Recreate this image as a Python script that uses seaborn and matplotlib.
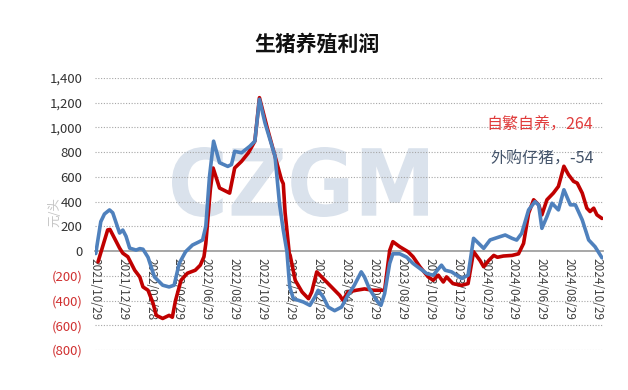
import pandas as pd
import seaborn as sns
import matplotlib.pyplot as plt
import matplotlib.dates as mdates
from matplotlib.ticker import FuncFormatter
from matplotlib.textpath import TextPath
from matplotlib.patches import PathPatch
from matplotlib.font_manager import FontProperties
from matplotlib.transforms import Affine2D

# 自繁自养
red_dates = ['2021-11-05', '2021-11-26', '2021-12-01', '2021-12-22', '2021-12-29', '2022-01-09', '2022-01-24',
             '2022-02-04', '2022-02-11', '2022-02-22', '2022-03-05', '2022-03-12', '2022-03-26', '2022-04-09',
             '2022-04-16', '2022-04-23', '2022-05-05', '2022-05-19', '2022-06-05', '2022-06-16', '2022-06-24',
             '2022-06-28', '2022-07-08', '2022-07-14', '2022-07-28', '2022-08-19', '2022-08-30', '2022-09-14',
             '2022-09-29', '2022-10-13', '2022-10-23', '2022-11-08', '2022-11-26', '2022-12-10', '2022-12-14',
             '2022-12-18', '2022-12-27', '2022-12-29', '2023-01-09', '2023-01-24', '2023-02-07', '2023-02-14',
             '2023-02-25', '2023-03-11', '2023-03-29', '2023-04-16', '2023-04-23', '2023-05-04', '2023-05-22',
             '2023-06-09', '2023-06-28', '2023-07-23', '2023-08-03', '2023-08-10', '2023-08-25', '2023-09-12',
             '2023-09-23', '2023-10-08', '2023-10-26', '2023-11-06', '2023-11-17', '2023-11-28', '2023-12-05',
             '2023-12-19', '2024-01-07', '2024-01-21', '2024-02-02', '2024-02-16', '2024-02-24', '2024-03-06',
             '2024-03-17', '2024-03-25', '2024-04-07', '2024-04-26', '2024-05-10', '2024-05-21', '2024-06-01',
             '2024-06-12', '2024-06-23', '2024-06-30', '2024-07-11', '2024-07-25', '2024-08-05', '2024-08-17',
             '2024-08-27', '2024-09-07', '2024-09-15', '2024-09-26', '2024-10-06', '2024-10-13', '2024-10-21',
             '2024-10-28', '2024-11-08']
red_vals = [-87, 171, 175, 24, -17, -46, -155,
            -209, -290, -317, -423, -520, -545, -520,
            -535, -400, -236, -179, -155, -114, -46,
            60, 500, 672, 510, 469, 672, 726,
            795, 889, 1241, 1010, 767, 577, 545,
            309, -17, -35, -236, -331, -385, -331,
            -168, -222, -290, -358, -398, -331, -317,
            -306, -317, -317, 5, 76, 35, -5,
            -46, -127, -209, -236, -195, -250, -209,
            -263, -277, -263, -5, -76, -127, -76,
            -35, -50, -40, -35, -22, 62, 306,
            415, 374, 293, 415, 469, 523, 686,
            618, 564, 550, 469, 347, 320, 347,
            293, 264]

# 外购仔猪
blue_dates = ['2021-10-31', '2021-11-11', '2021-11-19', '2021-11-30', '2021-12-07', '2021-12-22', '2021-12-29',
              '2022-01-05', '2022-01-13', '2022-01-27', '2022-02-04', '2022-02-11', '2022-02-22', '2022-03-08',
              '2022-03-26', '2022-04-09', '2022-04-20', '2022-05-01', '2022-05-15', '2022-05-30', '2022-06-14',
              '2022-06-21', '2022-06-28', '2022-07-06', '2022-07-15', '2022-07-28', '2022-08-15', '2022-08-23',
              '2022-08-30', '2022-09-14', '2022-10-02', '2022-10-13', '2022-10-23', '2022-11-04', '2022-11-26',
              '2022-12-06', '2022-12-14', '2022-12-22', '2022-12-28', '2023-01-05', '2023-01-27', '2023-02-10',
              '2023-02-21', '2023-02-28', '2023-03-11', '2023-03-22', '2023-04-05', '2023-04-20', '2023-05-04',
              '2023-05-18', '2023-06-02', '2023-06-09', '2023-06-20', '2023-07-08', '2023-07-15', '2023-07-23',
              '2023-08-03', '2023-08-10', '2023-08-25', '2023-09-09', '2023-09-23', '2023-10-08', '2023-10-23',
              '2023-11-06', '2023-11-24', '2023-12-02', '2023-12-16', '2024-01-07', '2024-01-21', '2024-02-02',
              '2024-02-24', '2024-03-09', '2024-03-31', '2024-04-11', '2024-04-26', '2024-05-06', '2024-05-17',
              '2024-06-01', '2024-06-15', '2024-06-23', '2024-06-30', '2024-07-11', '2024-07-22', '2024-08-05',
              '2024-08-17', '2024-08-31', '2024-09-11', '2024-09-26', '2024-10-10', '2024-10-24', '2024-11-08']
blue_vals = [-20, 238, 300, 333, 310, 146, 170,
             120, 24, 8, 20, 15, -50, -209,
             -276, -290, -276, -100, -5, 49, 76,
             90, 200, 600, 889, 715, 685, 700,
             807, 795, 848, 889, 1228, 1038, 767,
             374, 170, -5, -290, -385, -412, -439,
             -371, -317, -371, -453, -482, -453, -358,
             -276, -168, -209, -306, -412, -439, -344,
             -100, -22, -22, -49, -100, -141, -182,
             -195, -114, -155, -168, -222, -195, 103,
             22, 90, 117, 130, 103, 89, 144,
             333, 400, 373, 184, 279, 387, 333,
             496, 374, 374, 252, 90, 35, -54]

tick_dates = ['2021-10-29', '2021-12-29', '2022-02-28', '2022-04-29', '2022-06-29', '2022-08-29',
              '2022-10-29', '2022-12-29', '2023-02-28', '2023-04-29', '2023-06-29', '2023-08-29',
              '2023-10-29', '2023-12-29', '2024-02-29', '2024-04-29', '2024-06-29', '2024-08-29',
              '2024-10-29']
y_ticks = [-800, -600, -400, -200, 0, 200, 400, 600, 800, 1000, 1200, 1400]

sns.set_style('white')
plt.rcParams['font.family'] = ['Noto Sans CJK SC', 'DejaVu Sans']

df_red = pd.DataFrame({'date': pd.to_datetime(red_dates), 'value': red_vals})
df_blue = pd.DataFrame({'date': pd.to_datetime(blue_dates), 'value': blue_vals})

fig = plt.figure(figsize=(6.28, 3.9), dpi=100)
ax = fig.add_axes([0.151, 0.1026, 0.809, 0.6974])
ax.patch.set_alpha(0)

# 水印, stretched into its box
tp = TextPath((0, 0), 'CZGM', size=1, prop=FontProperties(family='DejaVu Sans', weight='bold'))
bb = tp.get_extents()
wm_tr = (Affine2D().translate(-bb.x0, -bb.y0)
         .scale(256 / 628 / bb.width, 70 / 390 / bb.height)
         .translate(172 / 628, 173 / 390))
wm = PathPatch(tp, transform=wm_tr + fig.transFigure, facecolor='#DAE2EC', edgecolor='none', zorder=-1)
fig.add_artist(wm)

sns.lineplot(data=df_red, x='date', y='value', color='#C00000', linewidth=2.6, ax=ax, zorder=3)
sns.lineplot(data=df_blue, x='date', y='value', color='#4F81BD', linewidth=2.6, ax=ax, zorder=4)

ax.set_xlim(pd.Timestamp('2021-10-29'), pd.Timestamp('2024-11-10'))
ax.set_ylim(-800, 1400)
ax.set_yticks(y_ticks)
ax.yaxis.set_major_formatter(FuncFormatter(lambda v, p: f'({abs(v):,.0f})' if v < 0 else f'{v:,.0f}'))
for v in y_ticks:
    if v != 0:
        ax.axhline(v, color='#A6A6A6', linestyle=(0, (1, 1.5)), linewidth=0.8, zorder=1)

ax.set_xticks(pd.to_datetime(tick_dates))
ax.xaxis.set_major_formatter(mdates.DateFormatter('%Y/%m/%d'))

for s in ['top', 'right', 'left']:
    ax.spines[s].set_visible(False)
ax.spines['bottom'].set_position(('data', 0))
ax.spines['bottom'].set_color('#A0A0A0')
ax.spines['bottom'].set_linewidth(1.3)
ax.spines['bottom'].set_zorder(2)

ax.tick_params(axis='x', length=4, width=1, color='#A0A0A0', direction='out', pad=1,
               labelsize=8.5, labelcolor='#404040', labelrotation=270)
ax.tick_params(axis='y', length=0, pad=9, labelsize=9.5, labelcolor='#333333')
for lab in ax.get_xticklabels():
    lab.set_verticalalignment('top')
    lab.set_horizontalalignment('center')
for lab in ax.get_yticklabels():
    if lab.get_text().startswith('('):
        lab.set_color('#D03030')

ax.set_xlabel('')
ax.set_ylabel('')

fig.text(0.505, 0.887, '生猪养殖利润', ha='center', va='center', fontsize=15, fontweight='bold', color='#111111')
fig.text(0.088, 0.456, '元/头', rotation=90, ha='center', va='center', fontsize=9, color='#C4C4C4')
fig.text(0.945, 0.679, '自繁自养，264', ha='right', va='center', fontsize=11.5, color='#E03C3C')
fig.text(0.945, 0.592, '外购仔猪，-54', ha='right', va='center', fontsize=11.5, color='#44546A')

fig.savefig('out.png', dpi=100)
